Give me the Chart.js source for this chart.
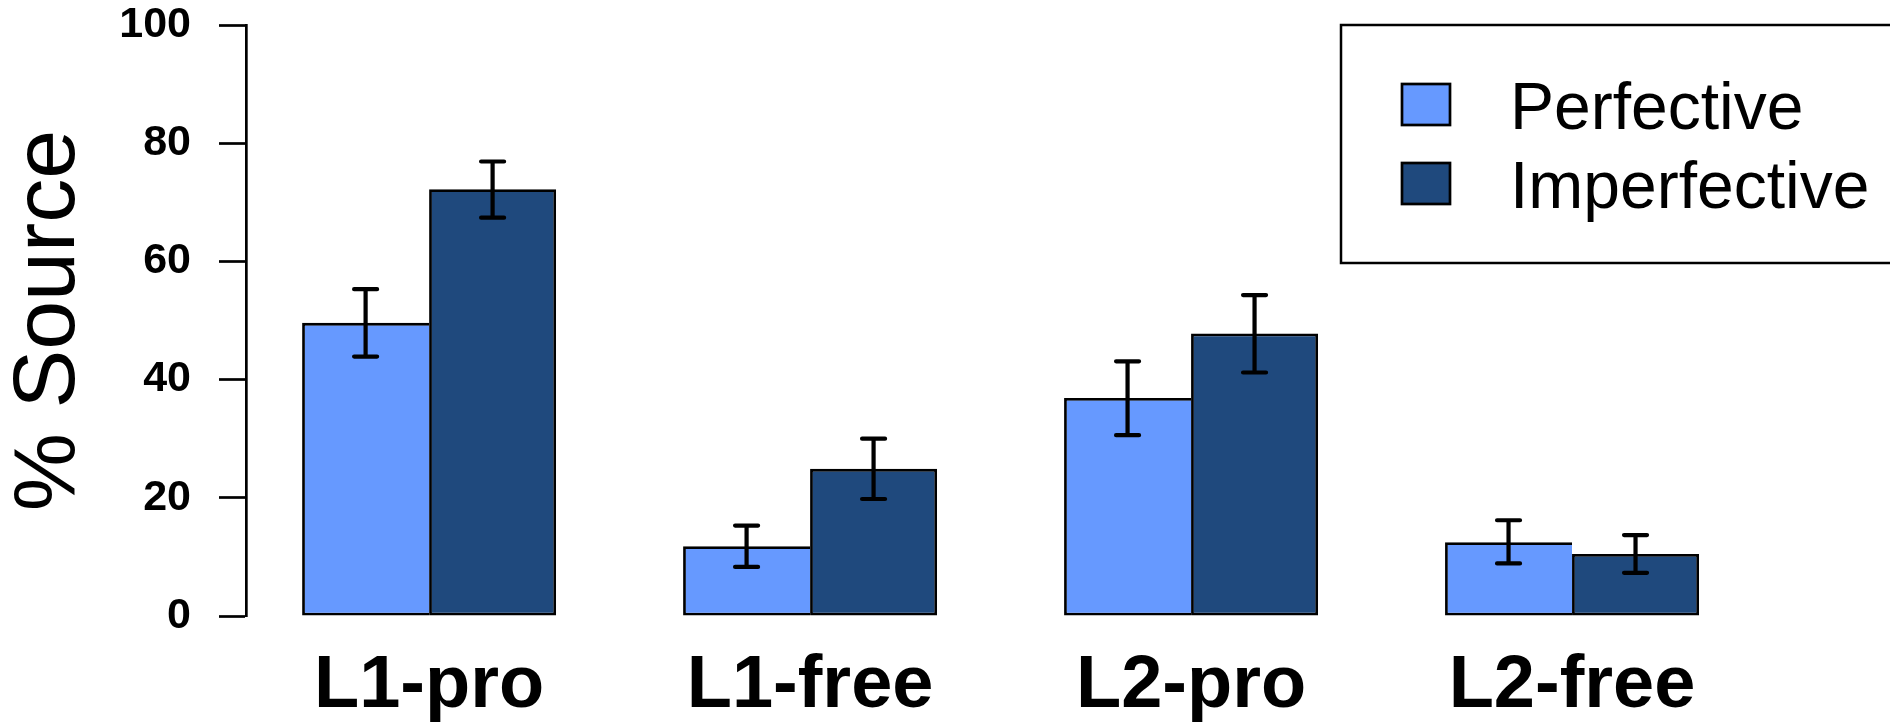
<!DOCTYPE html>
<html>
<head>
<meta charset="utf-8">
<script src="https://cdn.jsdelivr.net/npm/chart.js@4/dist/chart.umd.min.js"></script>
<style>
  html, body { margin: 0; padding: 0; background: #ffffff; }
  #wrap { width: 1890px; height: 724px; }
</style>
</head>
<body>
<div id="wrap"><canvas id="c" width="1890" height="724"></canvas></div>
<script>
// ---- data ----
const categories = ['L1-pro', 'L1-free', 'L2-pro', 'L2-free'];
const seriesNames = ['Perfective', 'Imperfective'];
const perfective = [49.6, 11.8, 36.9, 12.5];
const imperfective = [72.2, 24.9, 47.8, 10.5];
const perfectiveLow = [43.9, 8.3, 30.6, 8.9];
const perfectiveHigh = [55.3, 15.3, 43.1, 16.2];
const imperfectiveLow = [67.4, 19.8, 41.2, 7.3];
const imperfectiveHigh = [76.9, 30.0, 54.3, 13.7];
const yTicks = [0, 20, 40, 60, 80, 100];

const FONT = '"Liberation Sans", Arial, Helvetica, sans-serif';

const toPoints = arr => arr.map((v, i) => ({ x: i, y: v }));

// error bars drawn through the chart's own scales
const errorBars = {
  id: 'errorBars',
  afterDatasetsDraw(chart) {
    const ctx = chart.ctx;
    const y = chart.scales.y;
    chart.data.datasets.forEach((ds, di) => {
      const meta = chart.getDatasetMeta(di);
      meta.data.forEach((bar, i) => {
        const x = bar.x;
        const yl = y.getPixelForValue(ds.errLow[i]);
        const yh = y.getPixelForValue(ds.errHigh[i]);
        ctx.save();
        ctx.strokeStyle = '#000';
        ctx.lineWidth = 4.2;
        ctx.lineCap = 'round';
        ctx.beginPath();
        ctx.moveTo(x, yl); ctx.lineTo(x, yh);
        ctx.moveTo(x - 11.5, yl); ctx.lineTo(x + 11.5, yl);
        ctx.moveTo(x - 11.5, yh); ctx.lineTo(x + 11.5, yh);
        ctx.stroke();
        ctx.restore();
      });
    });
  }
};

// boxed legend as in the original
const boxLegend = {
  id: 'boxLegend',
  afterDraw(chart) {
    const ctx = chart.ctx;
    ctx.save();
    ctx.strokeStyle = '#000';
    ctx.lineWidth = 2.5;
    ctx.strokeRect(1341, 25, 560, 238);
    ctx.font = '66px ' + FONT;
    ctx.textBaseline = 'alphabetic';
    ctx.textAlign = 'left';
    chart.data.datasets.forEach((ds, i) => {
      const top = 84 + i * 79;
      ctx.fillStyle = ds.backgroundColor;
      ctx.fillRect(1402, top, 48, 41);
      ctx.lineWidth = 2.7;
      ctx.strokeStyle = '#000';
      ctx.strokeRect(1402, top, 48, 41);
      ctx.fillStyle = '#000';
      ctx.fillText(ds.label, 1510, 128.5 + i * 79);
    });
    ctx.restore();
  }
};

new Chart(document.getElementById('c'), {
  type: 'bar',
  data: {
    datasets: [
      {
        label: seriesNames[0],
        data: toPoints(perfective),
        errLow: perfectiveLow,
        errHigh: perfectiveHigh,
        backgroundColor: '#6699ff',
        borderColor: '#000000',
        borderWidth: 2.8,
        borderSkipped: 'right'
      },
      {
        label: seriesNames[1],
        data: toPoints(imperfective),
        errLow: imperfectiveLow,
        errHigh: imperfectiveHigh,
        backgroundColor: '#1f497d',
        borderColor: '#000000',
        borderWidth: 2.8,
        borderSkipped: false
      }
    ]
  },
  options: {
    responsive: false,
    animation: false,
    events: [],
    layout: { padding: { top: 25, right: 0, bottom: 0, left: 0 } },
    datasets: { bar: { categoryPercentage: 2 / 3, barPercentage: 1 } },
    plugins: { legend: { display: false }, tooltip: { enabled: false } },
    scales: {
      x: {
        type: 'linear',
        position: 'bottom',
        offset: false,
        min: -0.4806,
        max: 3.8346,
        afterBuildTicks: s => { s.ticks = categories.map((c, i) => ({ value: i })); },
        afterFit: s => { s.height = 108; s.paddingLeft = 0; s.paddingRight = 0; },
        grid: { display: false, drawTicks: false, offset: false },
        border: { display: false },
        ticks: {
          autoSkip: false,
          maxRotation: 0,
          padding: 34,
          color: '#000',
          font: { family: FONT, size: 74, weight: 'bold', lineHeight: 1 },
          callback: v => categories[v]
        }
      },
      y: {
        type: 'linear',
        min: 0,
        max: 100,
        afterBuildTicks: s => { s.ticks = yTicks.map(v => ({ value: v })); },
        afterFit: s => { s.width = 246; s.paddingTop = 0; s.paddingBottom = 0; },
        grid: { drawOnChartArea: false, drawTicks: true, tickLength: 27, tickColor: '#000', tickWidth: 2.7 },
        border: { display: true, color: '#000', width: 2.7 },
        ticks: {
          padding: 28,
          color: '#000',
          font: { family: FONT, size: 43, weight: 'bold', lineHeight: 1 }
        },
        title: {
          display: true,
          text: '% Source',
          color: '#000',
          padding: { top: 6, bottom: 0 },
          font: { family: FONT, size: 88, weight: 'normal', lineHeight: 1 }
        }
      }
    }
  },
  plugins: [errorBars, boxLegend]
});
</script>
</body>
</html>
